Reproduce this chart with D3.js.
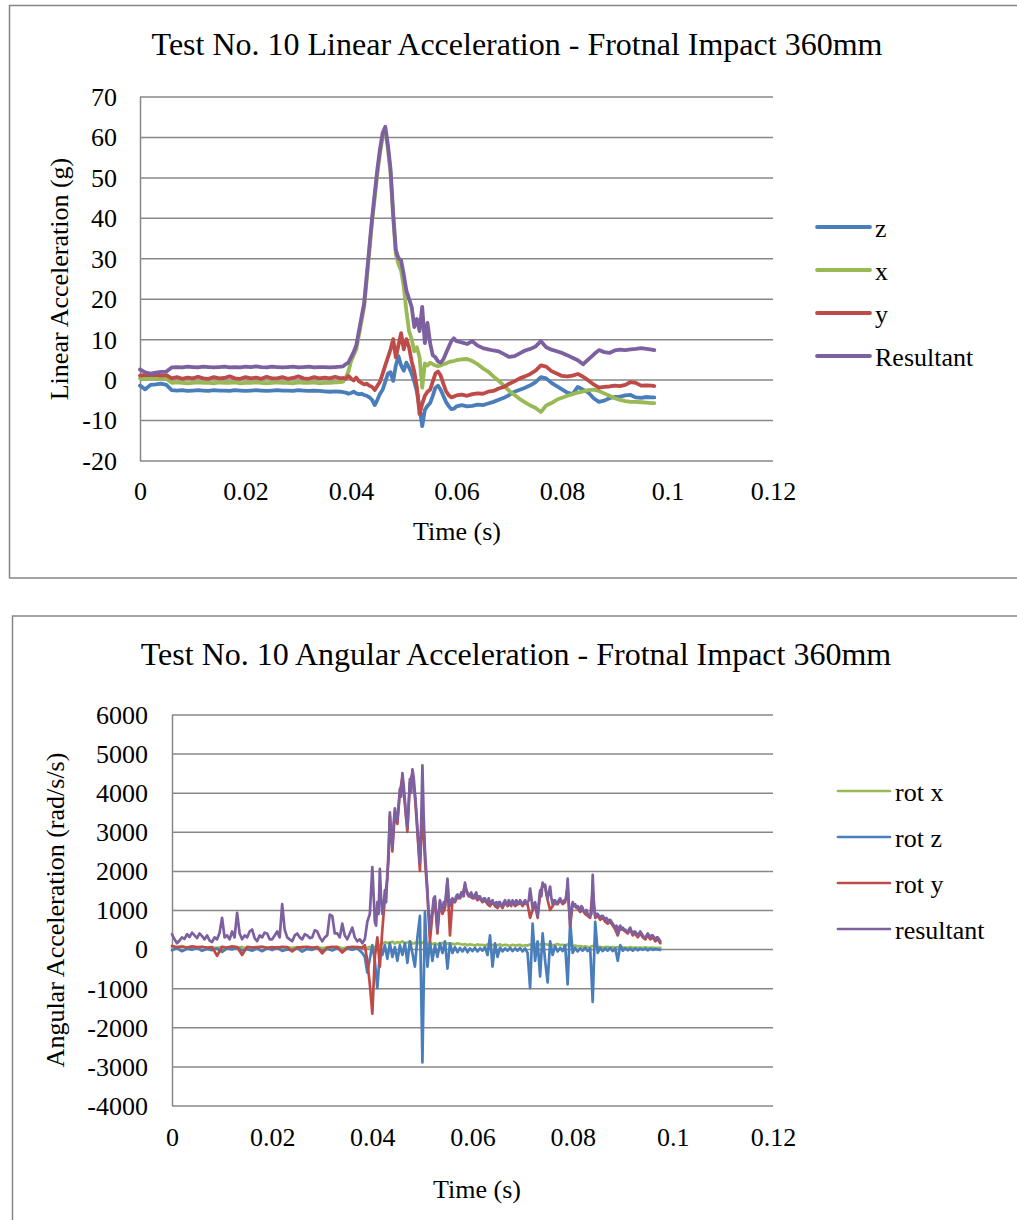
<!DOCTYPE html>
<html>
<head>
<meta charset="utf-8">
<script src="https://cdn.jsdelivr.net/npm/d3@7"></script>
<style>
  html, body { margin: 0; padding: 0; background: #fff; }
  svg { display: block; }
  text { font-family: "Liberation Serif", "Times New Roman", serif; fill: #000; }
</style>
</head>
<body>
<svg id="chart" width="1017" height="1220"></svg>
<script>
// ---------------- Chart 1: Linear acceleration ----------------
const linTitle = "Test No. 10 Linear Acceleration - Frotnal Impact 360mm";
const linYTitle = "Linear Acceleration (g)";
const linXTitle = "Time (s)";
const linYTicks = [-20, -10, 0, 10, 20, 30, 40, 50, 60, 70];
const linYTickLabels = ["-20", "-10", "0", "10", "20", "30", "40", "50", "60", "70"];
const linXTicks = [0, 0.02, 0.04, 0.06, 0.08, 0.1, 0.12];
const linXTickLabels = ["0", "0.02", "0.04", "0.06", "0.08", "0.1", "0.12"];
const linSeriesNames = ["z", "x", "y", "Resultant"];

const timeLin = [
  0,0.001,0.002,0.003,0.004,0.005,0.006,0.007,0.008,0.009,
  0.010,0.011,0.012,0.013,0.014,0.015,0.016,0.017,0.018,0.019,
  0.020,0.021,0.022,0.023,0.024,0.025,0.026,0.027,0.028,0.029,
  0.030,0.031,0.032,0.033,0.034,0.035,0.036,0.037,0.038,
  0.0385,0.039,0.0395,0.040,0.0405,0.041,0.0415,0.042,0.0425,0.043,
  0.0435,0.044,0.0445,0.045,0.0455,0.046,0.0465,0.047,0.0475,0.048,
  0.0485,0.049,0.0495,0.050,0.0505,0.051,0.0515,0.052,0.0525,0.053,
  0.0535,0.054,0.0545,0.055,0.0555,0.056,0.0565,0.057,0.0575,0.058,
  0.0585,0.059,0.0595,0.060,
  0.061,0.062,0.063,0.064,0.065,0.066,0.067,0.068,0.069,0.070,
  0.071,0.072,0.073,0.074,0.075,0.076,0.077,0.078,0.079,0.080,
  0.081,0.082,0.083,0.084,0.085,0.086,0.087,0.088,0.089,0.090,
  0.091,0.092,0.093,0.094,0.095,0.096,0.097,0.0975
];
const linZ = [
  -1.5,-2.4,-1.3,-1.2,-1.0,-1.3,-2.6,-2.7,-2.6,-2.8,
  -2.7,-2.6,-2.7,-2.8,-2.6,-2.7,-2.7,-2.8,-2.6,-2.7,
  -2.8,-2.7,-2.6,-2.7,-2.8,-2.7,-2.6,-2.7,-2.7,-2.8,
  -2.6,-2.7,-2.8,-2.7,-2.8,-2.9,-3.0,-2.9,-3.0,
  -3.1,-3.2,-3.5,-3.3,-3.0,-3.4,-3.6,-3.5,-3.8,-4.0,
  -4.4,-5.0,-6.3,-5.0,-3.5,-2.5,-0.5,1.5,1.8,-0.3,
  3.5,5.8,3.5,2.2,4.2,3.0,1.5,-0.5,-3.0,-7.0,
  -11.5,-7.5,-6.5,-5.8,-4.0,-2.0,-1.5,-2.5,-4.0,-5.5,
  -6.5,-7.3,-7.2,-6.6,
  -6.3,-6.6,-6.5,-6.2,-6.3,-5.9,-5.5,-5.0,-4.5,-3.8,
  -3.0,-2.5,-2.0,-1.4,-0.6,0.6,0.3,-0.8,-1.6,-2.4,
  -3.2,-3.6,-1.8,-2.5,-3.2,-4.6,-5.5,-5.2,-4.6,-4.3,
  -4.2,-3.9,-3.8,-4.4,-4.5,-4.3,-4.4,-4.4
];
const linX = [
  0.3,0.2,0.3,0.2,0.4,0.2,-0.8,-0.7,-0.8,-0.9,
  -0.8,-0.7,-0.8,-0.8,-0.9,-0.7,-0.8,-0.8,-0.7,-0.9,
  -0.8,-0.8,-0.7,-0.8,-0.9,-0.8,-0.7,-0.8,-0.8,-0.9,
  -0.7,-0.8,-0.8,-0.7,-0.9,-0.8,-0.8,-0.7,-0.6,
  -0.5,0.5,2,4.5,6,7.5,11,14.5,18,25,
  32,39,45,51,56,60,61.5,57,51,40,
  31,28.5,27,23,17,12,10,7,8,5.5,
  -2,4,3.5,4.2,3.8,3.5,3.3,3.5,3.8,4.0,
  4.3,4.5,4.6,4.8,
  5.0,5.1,4.6,3.8,2.8,2.0,0.8,-0.3,-1.5,-2.8,
  -3.8,-4.8,-5.6,-6.4,-7.0,-8.0,-6.4,-5.8,-5.0,-4.5,
  -4.0,-3.6,-3.2,-2.9,-2.6,-2.5,-2.8,-3.4,-4.0,-4.6,
  -5.0,-5.3,-5.5,-5.5,-5.6,-5.7,-5.8,-5.8
];
const linY = [
  1.0,1.2,1.1,1.2,1.0,1.1,0.3,0.6,0.2,0.5,
  0.3,0.7,0.3,0.2,0.6,0.3,0.4,0.8,0.3,0.2,
  0.6,0.3,0.5,0.2,0.7,0.3,0.3,0.6,0.2,0.4,
  0.8,0.3,0.2,0.6,0.3,0.5,0.3,0.7,0.3,
  0.4,0.2,0.9,0.3,-0.2,0.5,-0.4,-0.8,-1.2,-1.0,
  -1.5,-1.8,-2.6,-1.5,-0.5,1.5,3.5,5.5,7.5,10,
  5.5,8.5,11.5,7.5,10,8,4.5,2,-2,-8.5,
  -6,-4,-3,-2.5,-0.5,1.5,2.0,1.0,-1.0,-2.8,
  -3.8,-4.4,-4.2,-3.9,
  -3.7,-4.0,-3.6,-3.4,-3.5,-3.0,-2.8,-2.2,-1.8,-1.0,
  -0.4,0.3,0.8,1.4,2.2,3.5,3.2,2.1,1.5,0.9,
  0.8,1.0,1.4,0.7,-0.2,-1.2,-2.0,-1.8,-1.7,-1.5,
  -1.6,-1.3,-0.6,-0.8,-1.5,-1.4,-1.5,-1.6
];
const linRes = [
  2.5,1.8,1.5,1.7,1.9,2.0,3.0,3.1,3.0,3.2,
  3.1,3.0,3.2,3.1,3.0,3.1,3.2,3.0,3.1,3.0,
  3.2,3.1,3.3,3.1,3.0,3.2,3.1,3.0,3.1,3.2,
  3.0,3.1,3.2,3.0,3.1,3.1,3.0,3.1,3.2,
  3.3,3.8,4.2,5.5,6.8,8.5,12,15.5,19,26,
  33,40,46,52,57,61,62.5,58,52,41,
  32,30,29.5,26,22,20,18,13,15,12,
  18,9,14,9,6,5.5,4.5,4.2,5,6.5,
  8,9.5,10.2,9.5,
  9.2,8.8,9.5,8.4,7.8,7.5,7.2,7.0,6.3,5.6,
  5.8,6.5,7.2,7.6,8.2,9.5,8.0,7.4,7.0,6.6,
  6.0,5.4,4.8,3.8,5.0,6.2,7.3,6.8,6.6,7.2,
  7.4,7.3,7.5,7.6,7.8,7.6,7.4,7.3
];

// ---------------- Chart 2: Angular acceleration ----------------
const angTitle = "Test No. 10 Angular Acceleration - Frotnal Impact 360mm";
const angYTitle = "Angular Acceleration (rad/s/s)";
const angXTitle = "Time (s)";
const angYTicks = [-4000, -3000, -2000, -1000, 0, 1000, 2000, 3000, 4000, 5000, 6000];
const angYTickLabels = ["-4000", "-3000", "-2000", "-1000", "0", "1000", "2000", "3000", "4000", "5000", "6000"];
const angXTicks = [0, 0.02, 0.04, 0.06, 0.08, 0.1, 0.12];
const angXTickLabels = ["0", "0.02", "0.04", "0.06", "0.08", "0.1", "0.12"];
const angSeriesNames = ["rot x", "rot z", "rot y", "resultant"];

// sample times for rot x, rot z, rot y
const timeAng = [
  0,0.001,0.002,0.003,0.004,0.005,0.006,0.007,0.008,0.009,
  0.010,0.011,0.012,0.013,0.014,0.015,0.016,0.017,0.018,0.019,
  0.020,0.021,0.022,0.023,0.024,0.025,0.026,0.027,0.028,0.029,
  0.030,0.031,0.032,0.033,0.034,0.035,0.036,0.037,0.038,
  0.0385,0.039,0.0395,0.040,0.0405,0.041,0.0415,0.042,0.0425,0.043,
  0.0435,0.044,0.0445,0.045,0.0455,0.046,0.0465,0.047,0.0475,0.048,
  0.0485,0.049,0.0495,0.050,0.0505,0.051,0.0515,0.052,0.0525,0.053,
  0.0535,0.054,0.0545,0.055,0.0555,0.056,0.0565,0.057,0.0575,0.058,
  0.0585,0.059,0.0595,0.060,0.0605,0.061,0.0615,0.062,0.0625,0.063,
  0.0635,0.064,0.0645,0.065,0.0655,0.066,0.0665,0.067,0.0675,0.068,
  0.0685,0.069,0.0695,0.070,0.0705,0.071,0.0715,0.072,0.0725,0.073,
  0.0735,0.074,0.0745,0.075,0.0755,0.076,0.0765,0.077,0.0775,0.078,
  0.0785,0.079,0.0795,0.080,0.0805,0.081,0.0815,0.082,0.0825,0.083,
  0.0835,0.084,0.0845,0.085,0.0855,0.086,0.0865,0.087,0.0875,0.088,
  0.0885,0.089,0.0895,0.090,0.0905,0.091,0.0915,0.092,0.0925,0.093,
  0.0935,0.094,0.0945,0.095,0.0955,0.096,0.0965,0.097,0.0975
];
const angRotX = [
  20,45,80,35,60,25,55,15,40,30,
  50,20,45,35,55,10,40,30,60,25,
  35,50,20,45,30,55,15,40,35,50,
  25,45,30,60,20,40,35,25,30,
  40,30,60,20,50,80,100,140,180,150,
  170,190,140,180,160,200,150,170,190,140,
  160,180,130,170,150,120,160,130,150,120,
  140,160,120,150,130,140,120,150,130,110,
  130,100,120,110,90,120,100,110,90,120,
  100,110,90,100,120,90,110,100,80,110,
  90,100,110,80,100,90,120,100,130,110,
  120,140,130,110,120,100,110,130,100,110,
  90,120,100,80,90,70,80,60,70,50,
  60,80,70,50,60,40,50,60,40,50,
  40,50,30,45,40,30,50,35,40,30,
  40,30,45,35,30,40,25,35,30
];
const angRotZ = [
  -30,25,-55,10,-15,35,-45,5,-25,15,
  -70,20,-10,40,-35,-5,-40,15,-55,20,
  -25,35,-45,-10,-30,25,-65,5,-20,40,
  -50,10,-35,25,-60,15,-15,20,-100,
  -200,-600,-250,100,-300,-1000,-100,-150,100,-250,
  150,-200,50,-300,100,-150,150,-350,200,-100,
  -450,300,850,-2900,950,-450,200,-300,100,-200,
  150,-100,200,-500,150,-100,50,-80,30,-60,
  40,-80,20,-50,30,-60,20,-40,50,-150,
  350,-450,150,-200,40,-60,20,-40,30,-50,
  20,-40,30,-60,20,-100,-1000,650,-300,200,
  -700,400,-300,-850,200,-150,80,-60,30,-50,
  100,-900,700,-100,30,-60,20,-40,30,-50,
  20,-1350,700,-100,30,-50,20,-40,30,-50,
  20,-300,100,-40,20,-30,10,-40,20,-30,
  10,-20,10,-30,10,-20,0,-10,-20
];
const angRotY = [
  80,50,60,40,70,50,60,40,50,-170,
  60,40,70,50,-150,60,40,50,60,30,
  50,40,60,50,-60,40,50,60,40,50,
  -110,40,60,50,-90,40,60,50,40,
  100,-300,-900,-1650,-200,300,-450,500,1300,1800,
  3400,2500,3500,3200,4000,4400,3700,3000,4250,4500,
  3900,3000,2000,3600,2300,1400,200,900,1250,400,
  1200,900,1050,1700,350,1250,1200,1350,1300,1400,
  1650,1400,1350,1300,1350,1250,1300,1200,1250,1150,
  1100,1200,1100,1050,1150,1050,1200,1100,1150,1200,
  1100,1150,1200,1100,1200,1150,800,1000,1150,800,
  1400,1650,1600,1250,1000,1100,1200,1150,1250,1150,
  1200,1600,600,1150,1100,1050,950,1000,900,850,
  800,1500,800,850,750,800,700,650,700,600,
  500,350,550,500,450,400,500,350,400,300,
  400,300,250,350,250,300,200,250,150
];

// finer sample times for the resultant
const timeAngRes = [
  0,0.0005,0.001,0.0015,0.002,0.0025,0.003,0.0035,0.004,0.0045,
  0.005,0.0055,0.006,0.0065,0.007,0.0075,0.008,0.0085,0.009,0.0095,
  0.010,0.0105,0.011,0.0115,0.012,0.0125,0.013,0.0135,0.014,0.0145,
  0.015,0.0155,0.016,0.0165,0.017,0.0175,0.018,0.0185,0.019,0.0195,
  0.020,0.0205,0.021,0.0215,0.022,0.0225,0.023,0.0235,0.024,0.0245,
  0.025,0.0255,0.026,0.0265,0.027,0.0275,0.028,0.0285,0.029,0.0295,
  0.030,0.0305,0.031,0.0315,0.032,0.0325,0.033,0.0335,0.034,0.0345,
  0.035,0.0355,0.036,0.0365,0.037,0.0375,0.038,0.0385,0.039,0.0395,
  0.04,0.04025,0.0405,0.04075,0.041,0.04125,0.0415,0.04175,0.042,0.04225,
  0.0425,0.04275,0.043,0.04325,0.0435,0.04375,0.044,0.04425,0.0445,0.04475,
  0.045,0.04525,0.0455,0.04575,0.046,0.04625,0.0465,0.04675,0.047,0.04725,
  0.0475,0.04775,0.048,0.04825,0.0485,0.04875,0.049,0.04925,0.0495,0.04975,
  0.050,0.05025,0.0505,0.05075,0.051,0.05125,0.0515,0.05175,0.052,0.05225,
  0.0525,0.05275,0.053,0.05325,0.0535,0.05375,0.054,0.05425,0.0545,0.05475,
  0.055,0.05525,0.0555,0.05575,0.056,0.05625,0.0565,0.05675,0.057,0.05725,
  0.0575,0.05775,0.058,0.05825,0.0585,0.05875,0.059,0.05925,0.0595,0.05975,
  0.060,0.06025,0.0605,0.06075,0.061,0.06125,0.0615,0.06175,0.062,0.06225,
  0.0625,0.06275,0.063,0.06325,0.0635,0.06375,0.064,0.06425,0.0645,0.06475,
  0.065,0.06525,0.0655,0.06575,0.066,0.06625,0.0665,0.06675,0.067,0.06725,
  0.0675,0.06775,0.068,0.06825,0.0685,0.06875,0.069,0.06925,0.0695,0.06975,
  0.070,0.07025,0.0705,0.07075,0.071,0.07125,0.0715,0.07175,0.072,0.07225,
  0.0725,0.07275,0.073,0.07325,0.0735,0.07375,0.074,0.07425,0.0745,0.07475,
  0.075,0.07525,0.0755,0.07575,0.076,0.07625,0.0765,0.07675,0.077,0.07725,
  0.0775,0.07775,0.078,0.07825,0.0785,0.07875,0.079,0.07925,0.0795,0.07975,
  0.080,0.08025,0.0805,0.08075,0.081,0.08125,0.0815,0.08175,0.082,0.08225,
  0.0825,0.08275,0.083,0.08325,0.0835,0.08375,0.084,0.08425,0.0845,0.08475,
  0.085,0.08525,0.0855,0.08575,0.086,0.08625,0.0865,0.08675,0.087,0.08725,
  0.0875,0.08775,0.088,0.08825,0.0885,0.08875,0.089,0.08925,0.0895,0.08975,
  0.090,0.09025,0.0905,0.09075,0.091,0.09125,0.0915,0.09175,0.092,0.09225,
  0.0925,0.09275,0.093,0.09325,0.0935,0.09375,0.094,0.09425,0.0945,0.09475,
  0.095,0.09525,0.0955,0.09575,0.096,0.09625,0.0965,0.09675,0.097,0.09725,
  0.0975
];
const angRes = [
  380,250,150,220,300,260,380,310,420,350,
  280,400,330,250,350,220,180,300,250,420,
  800,300,350,250,450,300,930,400,250,350,
  300,450,500,280,200,350,300,420,400,250,
  250,350,450,300,1150,500,300,250,200,350,
  400,300,250,380,350,280,300,480,450,300,
  200,300,350,880,850,400,400,300,650,350,
  250,400,550,300,200,250,150,250,700,900,
  2100,1400,700,600,1200,900,2050,1300,900,1100,
  1500,1200,1950,2300,3500,2900,2600,3200,3600,3300,
  3300,3700,4100,3900,4500,4200,3800,3400,3100,3700,
  4350,4000,4600,4400,4000,3600,3100,2600,2200,3200,
  4700,3400,2550,2000,1500,900,500,800,1000,1300,
  1350,900,500,900,1250,1050,1000,1200,1100,1450,
  1800,1300,1100,1250,1300,1200,1250,1350,1400,1300,
  1350,1450,1450,1350,1700,1500,1450,1350,1400,1450,
  1350,1300,1400,1450,1300,1350,1350,1250,1250,1300,
  1300,1200,1200,1300,1150,1200,1250,1150,1150,1200,
  1100,1200,1200,1100,1100,1200,1250,1150,1150,1250,
  1200,1100,1250,1200,1150,1250,1200,1150,1250,1200,
  1150,1200,1250,1150,1200,1250,1550,1300,1050,1150,
  1200,1000,850,1200,1500,1350,1700,1600,1650,1400,
  1300,1450,1600,1300,1150,1250,1250,1150,1200,1250,
  1300,1200,1200,1250,1250,1300,1800,1100,650,1000,
  1200,1100,1150,1050,1100,1050,1000,1100,1050,950,
  950,1000,900,850,850,900,1900,1100,850,900,
  900,850,800,850,850,800,750,800,700,750,
  750,700,650,600,550,600,400,550,600,500,
  550,500,500,450,450,500,550,450,400,450,
  450,400,350,400,450,400,350,300,300,350,
  400,350,300,350,350,300,250,300,300,250,
  200
];

// ---------------- colours ----------------
const C_BLUE = "#4A7EBB", C_RED = "#BE4B48", C_GREEN = "#98B954", C_PURPLE = "#7D60A0";
const GRID = "#878787";
const FONT_LBL = 26, FONT_TITLE = 32;
const SERIF = '"Liberation Serif", "Times New Roman", serif';

const svg = d3.select("#chart");

function drawChart(cfg) {
  const g = svg.append("g");
  g.append("rect").attr("x", cfg.frame[0]).attr("y", cfg.frame[1])
    .attr("width", cfg.frame[2]).attr("height", cfg.frame[3])
    .attr("fill", "#fff").attr("stroke", "#868686").attr("stroke-width", 1.5);

  const x = d3.scaleLinear().domain([cfg.xTicks[0], cfg.xTicks[cfg.xTicks.length - 1]])
    .range([cfg.plot.left, cfg.plot.right]);
  const y = d3.scaleLinear().domain([cfg.yTicks[0], cfg.yTicks[cfg.yTicks.length - 1]])
    .range([cfg.plot.bottom, cfg.plot.top]);
  const w = cfg.plot.right - cfg.plot.left;

  const yAxis = d3.axisLeft(y).tickValues(cfg.yTicks).tickSize(-w).tickSizeOuter(0)
    .tickPadding(cfg.yPad).tickFormat((d, i) => cfg.yTickLabels[i]);
  const ya = g.append("g").attr("transform", `translate(${cfg.plot.left},0)`).call(yAxis);
  ya.attr("font-family", null).attr("font-size", null);
  ya.selectAll(".tick line").attr("stroke", GRID).attr("stroke-width", 1.5);
  ya.select(".domain").attr("stroke", GRID).attr("stroke-width", 1.5);
  ya.selectAll(".tick text").style("font-size", FONT_LBL + "px")
    .style("font-family", SERIF).attr("fill", "#000").attr("dy", "0.34em");

  const xAxis = d3.axisBottom(x).tickValues(cfg.xTicks).tickSize(0).tickPadding(cfg.xPad)
    .tickFormat((d, i) => cfg.xTickLabels[i]);
  const xa = g.append("g").attr("transform", `translate(0,${cfg.plot.bottom})`).call(xAxis);
  xa.attr("font-family", null).attr("font-size", null);
  xa.select(".domain").remove();
  xa.selectAll(".tick text").style("font-size", FONT_LBL + "px")
    .style("font-family", SERIF).attr("fill", "#000");

  const line = d3.line().x(d => x(d[0])).y(d => y(d[1]));
  cfg.series.forEach(s => {
    const pts = s.time.map((t, i) => [t, s.values[i]]).filter(p => p[1] !== undefined);
    g.append("path").datum(pts).attr("d", line).attr("fill", "none")
      .attr("stroke", s.color).attr("stroke-width", cfg.lineWidth)
      .attr("stroke-linejoin", "round").attr("stroke-linecap", "round");
  });

  g.append("text").attr("x", cfg.titlePos[0]).attr("y", cfg.titlePos[1])
    .attr("text-anchor", "middle").style("font-size", FONT_TITLE + "px").text(cfg.title);
  g.append("text").attr("x", cfg.xTitlePos[0]).attr("y", cfg.xTitlePos[1])
    .attr("text-anchor", "middle").style("font-size", FONT_LBL + "px").text(cfg.xTitle);
  g.append("text").attr("transform", `translate(${cfg.yTitlePos[0]},${cfg.yTitlePos[1]}) rotate(-90)`)
    .attr("text-anchor", "middle").style("font-size", FONT_LBL + "px").text(cfg.yTitle);

  const lg = g.append("g");
  cfg.legend.order.forEach((idx, k) => {
    const s = cfg.series[idx];
    const ly = cfg.legend.y0 + k * cfg.legend.dy;
    lg.append("line").attr("x1", cfg.legend.x1).attr("x2", cfg.legend.x2)
      .attr("y1", ly).attr("y2", ly).attr("stroke", s.color)
      .attr("stroke-width", cfg.lineWidth).attr("stroke-linecap", "round");
    lg.append("text").attr("x", cfg.legend.tx).attr("y", ly + 9.5)
      .style("font-size", FONT_LBL + "px").text(s.name);
  });
}

drawChart({
  frame: [9.5, 5.5, 1020, 572.5],
  plot: { left: 140, right: 773, top: 96.5, bottom: 460.5 },
  xTicks: linXTicks, xTickLabels: linXTickLabels, yTicks: linYTicks, yTickLabels: linYTickLabels,
  yPad: 23, xPad: 21,
  series: [
    { name: linSeriesNames[0], time: timeLin, values: linZ, color: C_BLUE },
    { name: linSeriesNames[1], time: timeLin, values: linX, color: C_GREEN },
    { name: linSeriesNames[2], time: timeLin, values: linY, color: C_RED },
    { name: linSeriesNames[3], time: timeLin, values: linRes, color: C_PURPLE }
  ],
  lineWidth: 3.8,
  title: linTitle, titlePos: [517, 55],
  xTitle: linXTitle, xTitlePos: [457, 540],
  yTitle: linYTitle, yTitlePos: [68, 279],
  legend: { order: [0, 1, 2, 3], x1: 817, x2: 870, tx: 875, y0: 227, dy: 43 }
});

drawChart({
  frame: [12.5, 616, 1020, 620],
  plot: { left: 172, right: 773, top: 714.5, bottom: 1105.5 },
  xTicks: angXTicks, xTickLabels: angXTickLabels, yTicks: angYTicks, yTickLabels: angYTickLabels,
  yPad: 24, xPad: 22,
  series: [
    { name: angSeriesNames[0], time: timeAng, values: angRotX, color: C_GREEN },
    { name: angSeriesNames[1], time: timeAng, values: angRotZ, color: C_BLUE },
    { name: angSeriesNames[2], time: timeAng, values: angRotY, color: C_RED },
    { name: angSeriesNames[3], time: timeAngRes, values: angRes, color: C_PURPLE }
  ],
  lineWidth: 2.7,
  title: angTitle, titlePos: [516, 665],
  xTitle: angXTitle, xTitlePos: [477, 1198],
  yTitle: angYTitle, yTitlePos: [64, 910],
  legend: { order: [0, 1, 2, 3], x1: 838, x2: 890, tx: 895, y0: 791, dy: 46 }
});
</script>
</body>
</html>
